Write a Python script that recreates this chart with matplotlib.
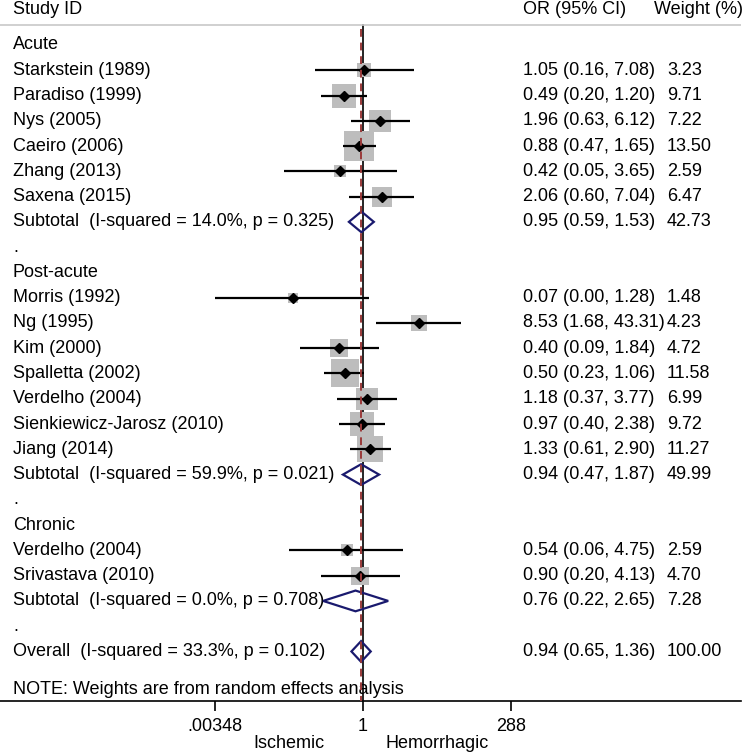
import numpy as np
import matplotlib.pyplot as plt
import matplotlib.transforms as mtransforms
from matplotlib.patches import Polygon

plt.rcParams['font.family'] = ['Liberation Sans', 'DejaVu Sans']

# study data, by group
acute_names = ["Starkstein (1989)", "Paradiso (1999)", "Nys (2005)", "Caeiro (2006)",
               "Zhang (2013)", "Saxena (2015)"]
acute_or = [1.05, 0.49, 1.96, 0.88, 0.42, 2.06]
acute_lo = [0.16, 0.20, 0.63, 0.47, 0.05, 0.60]
acute_hi = [7.08, 1.20, 6.12, 1.65, 3.65, 7.04]
acute_w = [3.23, 9.71, 7.22, 13.50, 2.59, 6.47]

post_names = ["Morris (1992)", "Ng (1995)", "Kim (2000)", "Spalletta (2002)",
              "Verdelho (2004)", "Sienkiewicz-Jarosz (2010)", "Jiang (2014)"]
post_or = [0.07, 8.53, 0.40, 0.50, 1.18, 0.97, 1.33]
post_lo = [0.0035, 1.68, 0.09, 0.23, 0.37, 0.40, 0.61]
post_hi = [1.28, 43.31, 1.84, 1.06, 3.77, 2.38, 2.90]
post_w = [1.48, 4.23, 4.72, 11.58, 6.99, 9.72, 11.27]

chronic_names = ["Verdelho (2004)", "Srivastava (2010)"]
chronic_or = [0.54, 0.90]
chronic_lo = [0.06, 0.20]
chronic_hi = [4.75, 4.13]
chronic_w = [2.59, 4.70]

group_names = ["Acute", "Post-acute", "Chronic"]
sub_or = [0.95, 0.94, 0.76]
sub_lo = [0.59, 0.47, 0.22]
sub_hi = [1.53, 1.87, 2.65]
sub_w = [42.73, 49.99, 7.28]
sub_i2 = ["14.0%", "59.9%", "0.0%"]
sub_p = ["0.325", "0.021", "0.708"]

overall = (0.94, 0.65, 1.36, 100.00)
overall_i2 = "33.3%"
overall_p = "0.102"

xticks = [0.00348, 1, 288]
xticklabels = [".00348", "1", "288"]

groups = [
    (acute_names, acute_or, acute_lo, acute_hi, acute_w),
    (post_names, post_or, post_lo, post_hi, post_w),
    (chronic_names, chronic_or, chronic_lo, chronic_hi, chronic_w),
]

fig = plt.figure(figsize=(7.42, 7.54), dpi=100)
ax = fig.add_axes([0, 53 / 754, 741 / 742, 701 / 754])
ax.set_xscale('log')
ax.set_xlim(np.exp(-362.7 / 26.15), np.exp((741 - 362.7) / 26.15))
ax.set_ylim(25.96, -1.78)

fs = 13
navy = '#1a1a6e'
box_grey = '#bdbdbd'

tx = mtransforms.blended_transform_factory(ax.transAxes, ax.transData)
x_name = 13 / 741
x_or = 523 / 741
x_w = 667 / 741


def ci_text(o, l, h):
    return f"{o:.2f} ({l:.2f}, {h:.2f})"


row = 0
for gi, (names, ors, los, his, ws) in enumerate(groups):
    ax.text(x_name, row, group_names[gi], transform=tx, va='center', fontsize=fs)
    row += 1
    for n, o, l, h, w in zip(names, ors, los, his, ws):
        ax.text(x_name, row, n, transform=tx, va='center', fontsize=fs)
        ax.plot([l, h], [row, row], color='black', lw=1.6, zorder=3,
                solid_capstyle='butt')
        ax.scatter([o], [row], marker='s', s=33 * w, color=box_grey, zorder=2,
                   linewidths=0)
        ax.plot([o], [row], marker='D', ms=5.5, color='black', zorder=4)
        ax.text(x_or, row, ci_text(o, l, h), transform=tx, va='center', fontsize=fs)
        ax.text(x_w, row, f"{w:.2f}", transform=tx, va='center', fontsize=fs)
        row += 1
    # subtotal diamond
    o, l, h = sub_or[gi], sub_lo[gi], sub_hi[gi]
    ax.text(x_name, row, f"Subtotal  (I-squared = {sub_i2[gi]}, p = {sub_p[gi]})",
            transform=tx, va='center', fontsize=fs)
    ax.add_patch(Polygon([[l, row], [o, row - 0.41], [h, row], [o, row + 0.41]],
                         closed=True, fill=False, edgecolor=navy, lw=1.6, zorder=3))
    ax.text(x_or, row, ci_text(o, l, h), transform=tx, va='center', fontsize=fs)
    ax.text(x_w, row, f"{sub_w[gi]:.2f}", transform=tx, va='center', fontsize=fs)
    row += 1
    ax.text(x_name, row, ".", transform=tx, va='center', fontsize=fs)
    row += 1

# overall
o, l, h, w = overall
ax.text(x_name, row, f"Overall  (I-squared = {overall_i2}, p = {overall_p})",
        transform=tx, va='center', fontsize=fs)
ax.add_patch(Polygon([[l, row], [o, row - 0.41], [h, row], [o, row + 0.41]],
                     closed=True, fill=False, edgecolor=navy, lw=1.6, zorder=3))
ax.text(x_or, row, ci_text(o, l, h), transform=tx, va='center', fontsize=fs)
ax.text(x_w, row, f"{w:.2f}", transform=tx, va='center', fontsize=fs)

ax.text(x_name, row + 1.5, "NOTE: Weights are from random effects analysis",
        transform=tx, va='center', fontsize=fs)

# header
ax.text(x_name, -1.39, "Study ID", transform=tx, va='center', fontsize=fs)
ax.text(x_or, -1.39, "OR (95% CI)", transform=tx, va='center', fontsize=fs)
ax.text(654 / 741, -1.39, "Weight (%)", transform=tx, va='center', fontsize=fs)
ax.axhline(-0.79, color='#c8c8c8', lw=1.2)

# reference lines
ax.plot([1, 1], [-0.79, 25.96], color='black', lw=1.2, zorder=1)
ax.plot([o, o], [-0.65, 25.96], color='#9b3a3a', lw=1.4, ls=(0, (4, 3)), zorder=5)

# axis
for s in ['top', 'right', 'left']:
    ax.spines[s].set_visible(False)
ax.spines['bottom'].set_linewidth(1.2)
ax.set_yticks([])
ax.set_xticks(xticks)
ax.set_xticklabels(xticklabels, fontsize=fs)
ax.minorticks_off()
ax.tick_params(axis='x', direction='out', length=7, width=1.2, pad=5)

ax.text(np.sqrt(xticks[0] * xticks[1]), 1 - 744 / 754, "Ischemic",
        transform=mtransforms.blended_transform_factory(ax.transData, fig.transFigure),
        ha='center', va='center', fontsize=fs)
ax.text(np.sqrt(xticks[1] * xticks[2]), 1 - 744 / 754, "Hemorrhagic",
        transform=mtransforms.blended_transform_factory(ax.transData, fig.transFigure),
        ha='center', va='center', fontsize=fs)

plt.savefig('out.png', dpi=100)
